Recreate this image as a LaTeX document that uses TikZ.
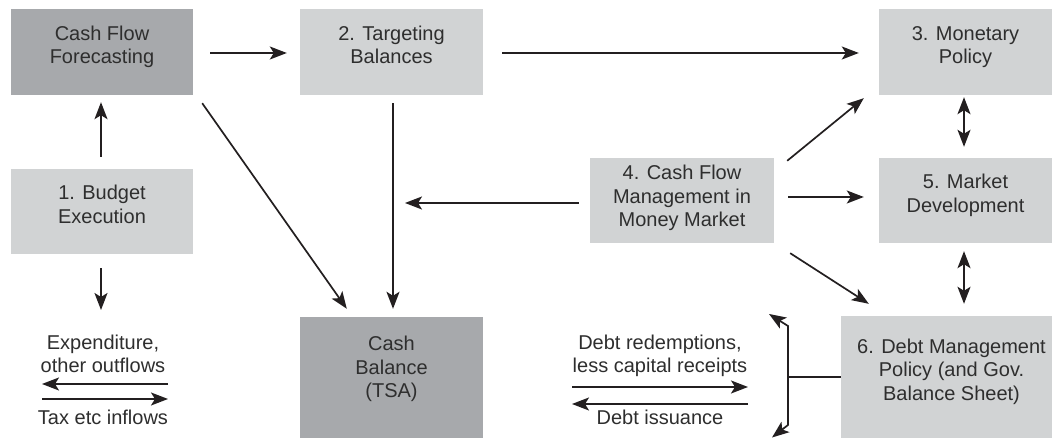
\documentclass[tikz,border=0pt]{standalone}
\usepackage{fontspec}
\setmainfont{Liberation Sans}
\usetikzlibrary{arrows.meta,calc}
\definecolor{darkbox}{HTML}{A7A9AC}
\definecolor{lightbox}{HTML}{D1D3D4}
\definecolor{inkc}{HTML}{231F20}
\definecolor{txtc}{HTML}{2E2E2E}
\begin{document}
\begin{tikzpicture}[x=1pt,y=1pt,
  boxbase/.style={rectangle,draw=none,inner sep=0pt},
  darkb/.style={boxbase,fill=darkbox},
  lightb/.style={boxbase,fill=lightbox},
  lbl/.style={align=center,text=txtc,inner sep=0pt,font=\fontsize{20}{23.5}\selectfont},
  plain/.style={text=txtc,inner sep=0pt,anchor=base,font=\fontsize{20}{23.5}\selectfont},
  conn/.style={draw=inkc,line width=1.7pt},
  tip/.style={Stealth[length=17pt,width=13pt,inset=4pt]},
  arr/.style={conn,-{Stealth[length=17pt,width=13pt,inset=4pt]}},
  arrtwo/.style={conn,{Stealth[length=17pt,width=13pt,inset=4pt]}-{Stealth[length=17pt,width=13pt,inset=4pt]}}
]
\useasboundingbox (0,0) rectangle (1052,438);
\fill[white] (0,0) rectangle (1052,438);

% boxes
\node[darkb, minimum width=182pt, minimum height=86pt] (cff) at (102,386) {};
\node[lightb, minimum width=183pt, minimum height=86pt] (tb) at (391.5,386) {};
\node[lightb, minimum width=173pt, minimum height=86pt] (mp) at (965.5,386) {};
\node[lightb, minimum width=182pt, minimum height=85pt] (be) at (102,226.5) {};
\node[lightb, minimum width=184pt, minimum height=85pt] (cfm) at (682,237.5) {};
\node[lightb, minimum width=173pt, minimum height=85pt] (md) at (965.5,237.5) {};
\node[darkb, minimum width=183pt, minimum height=121pt] (cb) at (391.5,60.5) {};
\node[lightb, minimum width=211pt, minimum height=122pt] (dmp) at (946.5,61) {};

% box texts
\node[lbl] (cfft) at ([yshift=4.5]cff.center) {\strut Cash Flow\\Forecasting\strut};
\node[lbl] (tbt) at ([yshift=4.5]tb.center) {\strut 2. Targeting\\Balances\strut};
\node[lbl] (mpt) at ([yshift=4.5]mp.center) {\strut 3. Monetary\\Policy\strut};
\node[lbl] (bet) at ([yshift=4.5]be.center) {\strut 1. Budget\\Execution\strut};
\node[lbl] (cfmt) at ([yshift=2]cfm.center) {\strut 4. Cash Flow\\Management in\\Money Market\strut};
\node[lbl] (mdt) at ([yshift=4.5]md.center) {\strut 5. Market\\Development\strut};
\node[lbl] (cbt) at ([yshift=8]cb.center) {\strut Cash\\Balance\\(TSA)\strut};
\node[lbl] (dmpt) at ([xshift=5,yshift=5]dmp.center) {\strut 6. Debt Management\\Policy (and Gov.\\Balance Sheet)\strut};

% free texts
\node[plain] (exp1) at (103,88) {Expenditure,};
\node[plain] (exp2) at (103,65) {other outflows};
\node[plain] (tax) at (103,13) {Tax etc inflows};
\node[plain] (dr1) at (660,88) {Debt redemptions,};
\node[plain] (dr2) at (660,65) {less capital receipts};
\node[plain] (di) at (660,13) {Debt issuance};

% coordinates
\coordinate (j) at (405,235);
\coordinate (bdown) at (101,128);
\coordinate (oR) at (168,54);
\coordinate (oL) at (42,54);
\coordinate (iL) at (42,39);
\coordinate (iR) at (168,39);
\coordinate (dL1) at (572,51);
\coordinate (dR1) at (748,51);
\coordinate (dL2) at (572,34);
\coordinate (dR2) at (748,34);
\coordinate (bj) at (788,61);
\coordinate (btop) at (788,112);
\coordinate (btip) at (769,124);
\coordinate (bbot) at (788,13);
\coordinate (bbtip) at (772,0.5);

% connectors
\draw[arr] ([xshift=-1,yshift=12]be.north) -- ([xshift=-1,yshift=-7]cff.south);
\draw[arr] ([xshift=17,yshift=-1]cff.east) -- ([xshift=-13,yshift=-1]tb.west);
\draw[arr] ([xshift=19,yshift=-1]tb.east) -- ([xshift=-20,yshift=-1]mp.west);
\draw[arr] ([xshift=9,yshift=-8]cff.south east) -- ([xshift=47,yshift=8]cb.north west);
\draw[arr] ([xshift=1.5,yshift=-8]tb.south) -- ([xshift=1.5,yshift=8]cb.north);
\draw[arr] ([xshift=-11,yshift=-2.5]cfm.west) -- (j);
\draw[arr] ([xshift=13,yshift=-3]cfm.north east) -- ([xshift=-15,yshift=-3]mp.south west);
\draw[arr] ([xshift=14,yshift=3.5]cfm.east) -- ([xshift=-15,yshift=3.5]md.west);
\draw[arr] ([xshift=16,yshift=-10]cfm.south east) -- ([xshift=28,yshift=12]dmp.north west);
\draw[arrtwo] ([xshift=-1.5,yshift=-2]mp.south) -- ([xshift=-1.5,yshift=11]md.north);
\draw[arrtwo] ([xshift=-1.5,yshift=-8]md.south) -- ($(md.south |- dmp.north)+(-1.5,12)$);
\draw[arr] ([xshift=-1,yshift=-14]be.south) -- (bdown);
\draw[arr] (oR) -- (oL);
\draw[arr] (iL) -- (iR);
\draw[arr] (dL1) -- (dR1);
\draw[arr] (dR2) -- (dL2);
\draw[conn] (dmp.west) -- (bj);
\draw[arr] (bj) -- (btop) -- (btip);
\draw[arr] (bj) -- (bbot) -- (bbtip);
\end{tikzpicture}
\end{document}
